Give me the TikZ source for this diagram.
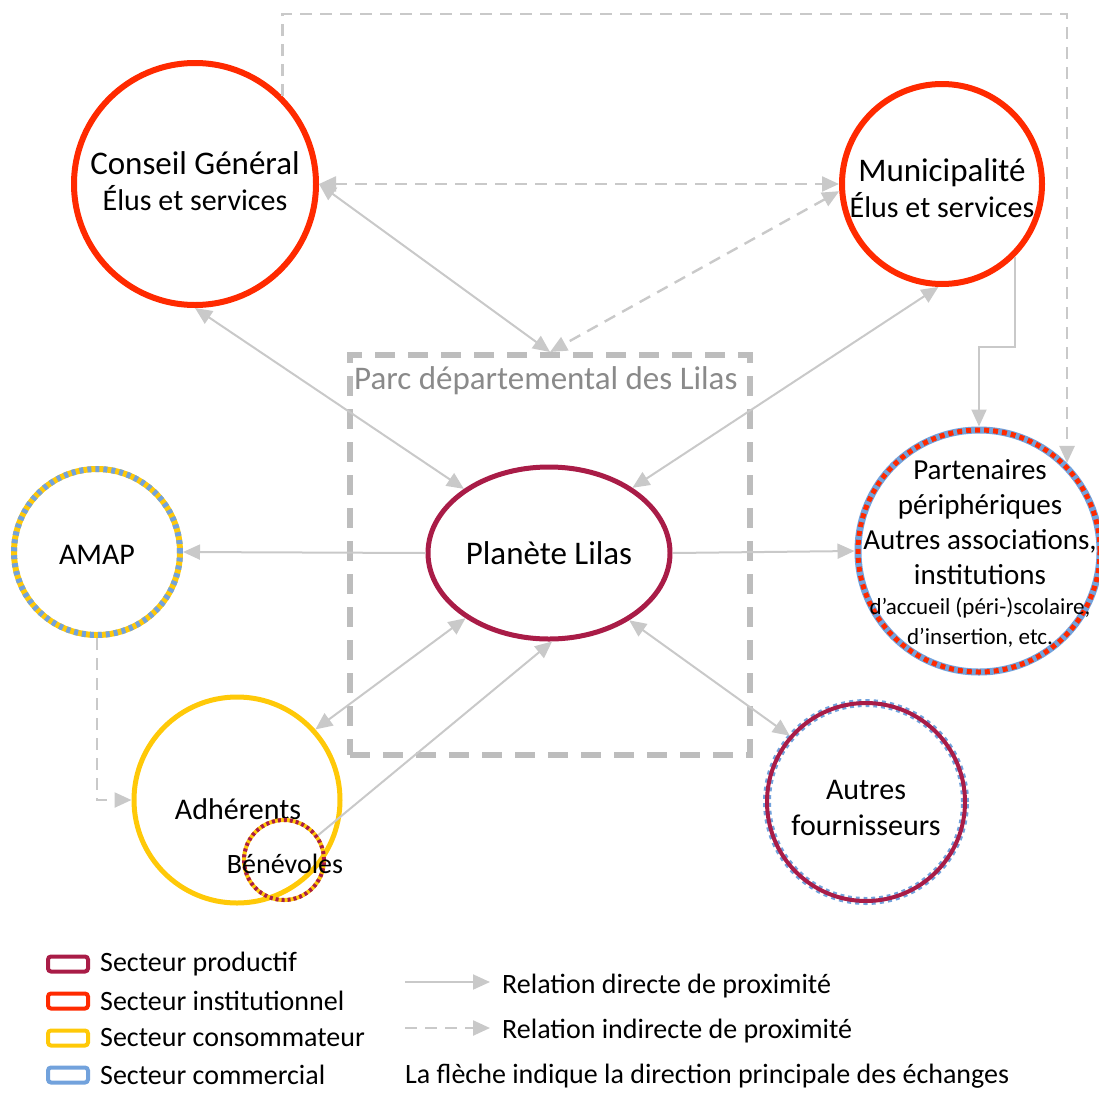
\documentclass[tikz,border=0pt]{standalone}
\usepackage{fontspec}
\setmainfont{Carlito}
\usetikzlibrary{arrows.meta, positioning, shapes.geometric, calc}
\definecolor{cred}{HTML}{FF2A00}
\definecolor{ccrimson}{HTML}{A91C47}
\definecolor{cyellow}{HTML}{FFC908}
\definecolor{cblue}{HTML}{72A2DC}
\definecolor{cline}{HTML}{C9C9C9}
\definecolor{cpark}{HTML}{BDBDBD}
\definecolor{cparktext}{HTML}{8A8A8A}
\tikzset{
  sector/.style={circle, draw=#1, line width=6pt, inner sep=0pt},
  sector/.default=cred,
  txt/.style={font=\fontsize{30}{36}\selectfont, align=center, inner sep=1pt},
  bigtxt/.style={font=\fontsize{33}{36}\selectfont, align=center, inner sep=1pt},
  legtxt/.style={font=\fontsize{28}{32}\selectfont, inner sep=0pt, anchor=west},
  legbox/.style={draw=#1, line width=4pt, rounded corners=3pt, minimum width=40pt, minimum height=15pt, inner sep=0pt},
  link/.style={draw=cline, line width=2pt, -{Triangle[length=17pt, width=15pt]}},
  twolink/.style={link, {Triangle[length=17pt, width=15pt]}-{Triangle[length=17pt, width=15pt]}},
  dlink/.style={link, line width=2.4pt, dash pattern=on 12pt off 8pt},
  twodlink/.style={twolink, line width=2.4pt, dash pattern=on 12pt off 8pt},
}
\begin{document}
\begin{tikzpicture}[x=1pt, y=-1pt]
  \useasboundingbox (0,0) rectangle (1099,1092);
  % park
  \node[draw=cpark, line width=6pt, dash pattern=on 20pt off 13pt, minimum width=400pt, minimum height=400pt, inner sep=0pt] (parc) at (550,555) {};
  \node[bigtxt, text=cparktext, anchor=west] (parc-t) at (353,381) {Parc départemental des Lilas};
  % actors
  \node[sector=cred, minimum size=242pt] (cg) at (195,184) {};
  \node[bigtxt] (cg-t) at (195,181) {Conseil Général\\\fontsize{30}{36}\selectfont Élus et services};
  \node[sector=cred, minimum size=200pt] (mu) at (942,184) {};
  \node[bigtxt] (mu-t) at (942,188) {Municipalité\\\fontsize{30}{36}\selectfont Élus et services};
  \node[ellipse, draw=ccrimson, line width=5pt, minimum width=242pt, minimum height=172pt, inner sep=0pt, font=\fontsize{33}{36}\selectfont] (pl) at (549,553) {Planète Lilas};
  \node[sector=cyellow, minimum size=166pt, postaction={draw=cblue, line width=6pt, dash pattern=on 4pt off 4pt}] (am) at (97,552) {};
  \node[txt] (am-t) at (97,555) {AMAP};
  \node[sector=cblue, minimum size=242pt, line width=7pt, postaction={draw=cred, line width=5pt, dash pattern=on 5pt off 4pt}] (pa) at (979,551) {};
  \node[txt, font=\fontsize{29}{35}\selectfont] (pa-t) at (980,553) {Partenaires\\périphériques\\Autres associations,\\institutions\\[-5pt]
    {\fontsize{23}{28}\selectfont d’accueil (péri-)scolaire,}\\[-5pt]{\fontsize{23}{28}\selectfont d’insertion, etc.}};
  \node[sector=cyellow, minimum size=206pt, line width=5pt] (ad) at (237,800) {};
  \node[txt] (ad-t) at (238,809) {Adhérents};
  \node[sector=cyellow, minimum size=80pt, line width=4pt, postaction={draw=ccrimson, line width=4pt, dash pattern=on 3pt off 3pt}] (be) at (284,860) {};
  \node[txt, font=\fontsize{28}{32}\selectfont] (be-t) at (285,864) {Bénévoles};
  \node[sector=ccrimson, minimum size=198pt, line width=4pt, preaction={draw=cblue, line width=8pt, dash pattern=on 4pt off 4pt}] (af) at (866,802) {};
  \node[txt] (af-t) at (866,808) {Autres\\fournisseurs};
  % relations
  \coordinate (ttop) at (0,14);
  \draw[dlink] (cg.45) |- (pa.45 |- ttop) -- (pa.45);
  \draw[twodlink] (cg.0) -- (mu.180);
  \draw[twolink] (cg.0) -- (parc.north);
  \draw[twodlink] (mu.184) -- (parc.north);
  \draw[twolink] (cg.-90) -- (pl.143);
  \draw[twolink] (mu.-92) -- (pl.38);
  \draw[link] (mu.-45) -- ++(0,90) -| (pa.north);
  \draw[link] (pl.180) -- (am.0);
  \draw[link] (pl.0) -- (pa.180);
  \draw[dlink] (am.south) |- (ad.west);
  \draw[twolink] (pl.218) -- (ad.42);
  \draw[link] (be.36) -- (pl.-88);
  \draw[twolink] (pl.-40) -- (af.139);
  % legend
  \foreach \c/\t [count=\k] in {ccrimson/Secteur productif, cred/Secteur institutionnel, cyellow/Secteur consommateur, cblue/Secteur commercial} {
    \node[legbox=\c] (lb\k) at (68,927+37*\k) {};
    \node[legtxt, right=10pt of lb\k] (lt\k) {\t};
  }
  \coordinate (ls1) at (405,982); \coordinate (le1) at (490,982);
  \coordinate (ls2) at (405,1028); \coordinate (le2) at (490,1028);
  \draw[link] (ls1) -- (le1);
  \draw[dlink] (ls2) -- (le2);
  \node[legtxt] (lr1) at (502,986) {Relation directe de proximité};
  \node[legtxt] (lr2) at (502,1031) {Relation indirecte de proximité};
  \node[legtxt] (lr3) at (405,1076) {La flèche indique la direction principale des échanges};
\end{tikzpicture}
\end{document}
